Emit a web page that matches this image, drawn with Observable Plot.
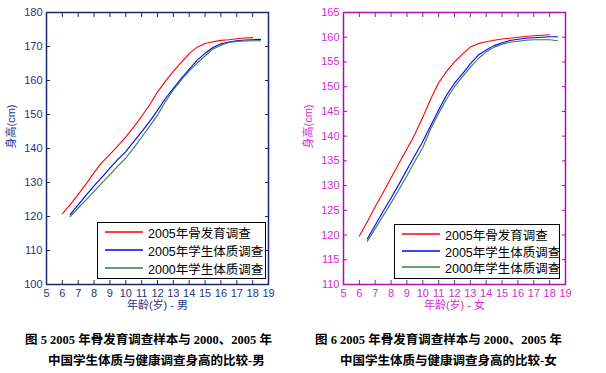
<!DOCTYPE html>
<html><head><meta charset="utf-8">
<script src="https://cdn.jsdelivr.net/npm/d3@7"></script>
<script src="https://cdn.jsdelivr.net/npm/@observablehq/plot@0.6"></script>
<style>
body{margin:0;background:#fff;}
#wrap{position:relative;width:606px;height:373px;overflow:hidden;background:#fff;font-family:"Liberation Sans","Noto Sans CJK SC",sans-serif;}
.panel{position:absolute;top:0;}
.legend{position:absolute;border:1.5px solid #000;background:#fff;box-sizing:border-box;}
.legend .row{position:absolute;left:0;height:16px;display:flex;align-items:center;font-size:12.5px;color:#000;white-space:nowrap;}
.legend svg{display:block;margin-left:7px;margin-right:5px;}
.caption{position:absolute;font-family:"Liberation Serif","Noto Sans CJK SC",serif;font-weight:bold;font-size:12.5px;white-space:nowrap;color:#000;line-height:16px;}
</style></head><body><div id="wrap"></div>
<script>
// ---- data ----
const agesBone = [6,6.5,7,7.5,8,8.5,9,9.5,10,10.5,11,11.5,12,12.5,13,13.5,14,14.5,15,15.5,16,16.5,17,17.5,18];
const agesStudent = [6.5,7,7.5,8,8.5,9,9.5,10,10.5,11,11.5,12,12.5,13,13.5,14,14.5,15,15.5,16,16.5,17,17.5,18,18.5];
const seriesNames = ["2005年骨发育调查", "2005年学生体质调查", "2000年学生体质调查"];
const seriesColors = ["#ff0000", "#0000ff", "#2f7d4c"];
// boys
const boyBone = [120.8,123.5,126.5,129.6,132.9,135.9,138.3,140.8,143.4,146.3,149.5,152.8,156.6,159.8,162.7,165.3,167.9,169.8,170.9,171.4,171.8,172.0,172.3,172.5,172.6];
const boy2005 = [120.6,123.4,126.3,129.0,131.6,134.2,136.8,139.1,142.0,144.9,147.9,151.2,154.7,157.7,160.6,163.3,166.0,168.0,169.7,170.8,171.3,171.7,171.9,172.0,172.1];
const boy2000 = [120.0,122.5,124.9,127.4,129.9,132.3,134.8,137.2,140.2,143.3,146.5,149.8,153.8,157.2,160.2,162.8,165.1,167.2,169.3,170.4,171.2,171.5,171.6,171.7,171.7];
// girls
const girlBone = [119.8,122.7,125.7,128.6,131.6,134.5,137.4,140.4,143.8,147.5,150.8,153.1,155.0,156.6,158.0,158.7,159.1,159.4,159.65,159.8,160.0,160.15,160.3,160.4,160.5];
const girl2005 = [119.2,122.0,124.8,127.5,130.3,133.2,136.1,138.9,142.1,145.3,148.3,150.7,152.6,154.6,156.4,157.4,158.3,158.9,159.35,159.6,159.8,159.9,160.0,160.1,160.1];
const girl2000 = [118.7,121.3,123.9,126.5,129.2,132.0,134.9,137.7,141.5,144.6,147.5,150.0,152.0,153.9,155.7,157.0,158.0,158.6,159.0,159.2,159.4,159.5,159.5,159.5,159.3];
// ticks & labels
const xTicks = [5,6,7,8,9,10,11,12,13,14,15,16,17,18,19];
const boyYTicks = [100,110,120,130,140,150,160,170,180];
const girlYTicks = [110,115,120,125,130,135,140,145,150,155,160,165];
const yLabel = "身高(cm)";
const boyXLabel = "年龄(岁) - 男";
const girlXLabel = "年龄(岁) - 女";
const boyCaption = ["图 5 2005 年骨发育调查样本与 2000、2005 年", "中国学生体质与健康调查身高的比较-男"];
const girlCaption = ["图 6 2005 年骨发育调查样本与 2000、2005 年", "中国学生体质与健康调查身高的比较-女"];

function rows(ages, vals, s) { return ages.map((a, i) => ({age: a, h: vals[i], s})); }

function panel(o) {
  const data = [
    ...rows(agesBone, o.bone, seriesNames[0]),
    ...rows(agesStudent, o.s05, seriesNames[1]),
    ...rows(agesStudent, o.s00, seriesNames[2])
  ];
  const ff = "Liberation Sans, Noto Sans CJK SC, sans-serif";
  return Plot.plot({
    width: o.width, height: 320,
    marginLeft: o.ml, marginRight: o.mr, marginTop: 12, marginBottom: 36,
    style: {fontFamily: ff, fontSize: "11px", color: o.text, background: "transparent", overflow: "visible"},
    x: {domain: [5, 19]},
    y: {domain: o.yDomain},
    color: {domain: seriesNames, range: seriesColors},
    marks: [
      Plot.line(data, {x: "age", y: "h", z: "s", stroke: "s", strokeWidth: 1.1}),
      Plot.frame({stroke: o.frame, strokeWidth: 1.5}),
      Plot.axisX(xTicks, {anchor: "bottom", tickSize: 0, tickPadding: 5, label: null, fill: o.text}),
      Plot.axisX(xTicks, {anchor: "bottom", tickSize: -4, tickFormat: () => "", label: null, stroke: o.frame}),
      Plot.axisX(xTicks, {anchor: "top", tickSize: -4, tickFormat: () => "", label: null, stroke: o.frame}),
      Plot.axisY(o.yTicks, {anchor: "left", tickSize: 0, tickPadding: 4, label: null, fill: o.text}),
      Plot.axisY(o.yTicks, {anchor: "left", tickSize: -4, tickFormat: () => "", label: null, stroke: o.frame}),
      Plot.axisY(o.yTicks, {anchor: "right", tickSize: -4, tickFormat: () => "", label: null, stroke: o.frame}),
      Plot.text([o.xLabel], {text: d => d, frameAnchor: "bottom", dy: 24, fill: o.text}),
      Plot.text([yLabel], {text: d => d, frameAnchor: "left", dx: -35, rotate: -90, fill: o.text})
    ]
  });
}

const wrap = document.getElementById("wrap");
function addPanel(o, left) {
  const p = panel(o);
  p.classList.add("panel");
  p.style.left = left + "px";
  wrap.appendChild(p);
}
addPanel({bone: boyBone, s05: boy2005, s00: boy2000, yDomain: [100, 180], yTicks: boyYTicks,
  xLabel: boyXLabel, width: 300, ml: 46, mr: 32, frame: "#1c2670", text: "#22348a"}, 0);
addPanel({bone: girlBone, s05: girl2005, s00: girl2000, yDomain: [110, 165], yTicks: girlYTicks,
  xLabel: girlXLabel, width: 306, ml: 43, mr: 41, frame: "#a810a8", text: "#d42ad4"}, 300);

const svgNS = "http://www.w3.org/2000/svg";
function addLegend(left, top, w, h, rowTops) {
  const lg = document.createElement("div");
  lg.className = "legend";
  Object.assign(lg.style, {left: left + "px", top: top + "px", width: w + "px", height: h + "px"});
  seriesNames.forEach((n, i) => {
    const r = document.createElement("div");
    r.className = "row";
    r.style.top = rowTops[i] + "px";
    const sv = document.createElementNS(svgNS, "svg");
    sv.setAttribute("width", "38");
    sv.setAttribute("height", "4");
    const ln = document.createElementNS(svgNS, "line");
    ln.setAttribute("x1", "0"); ln.setAttribute("x2", "38");
    ln.setAttribute("y1", "2"); ln.setAttribute("y2", "2");
    ln.setAttribute("stroke", seriesColors[i]);
    ln.setAttribute("stroke-width", "1.5");
    sv.appendChild(ln);
    r.appendChild(sv);
    r.appendChild(document.createTextNode(n));
    lg.appendChild(r);
  });
  wrap.appendChild(lg);
}
addLegend(97, 222, 169, 57, [1, 19, 37]);
addLegend(394, 224, 166, 55, [1, 18, 34]);

function addCaption(lines, lefts, tops) {
  lines.forEach((t, i) => {
    const c = document.createElement("div");
    c.className = "caption";
    c.textContent = t;
    c.style.left = lefts[i] + "px";
    c.style.top = tops[i] + "px";
    wrap.appendChild(c);
  });
}
addCaption(boyCaption, [25, 48], [332, 353]);
addCaption(girlCaption, [315, 340], [332, 353]);
</script></body></html>
